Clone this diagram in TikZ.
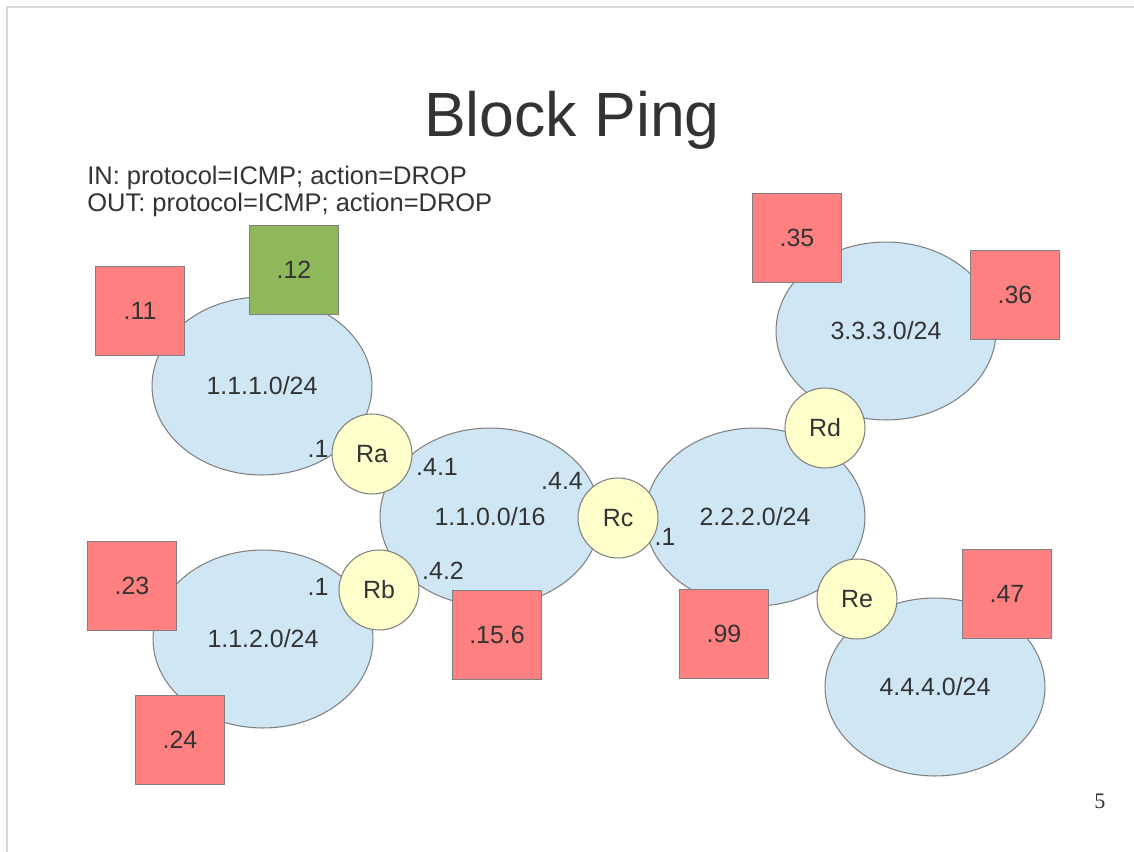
\documentclass[tikz,border=0pt]{standalone}
\usepackage{fontspec}
\setmainfont{Liberation Sans}
\newfontfamily\pagenumfont{Liberation Serif}
\usetikzlibrary{shapes.geometric}

\definecolor{netblue}{HTML}{CFE7F5}
\definecolor{routeryellow}{HTML}{FFFFCC}
\definecolor{hostred}{HTML}{FF8080}
\definecolor{hostgreen}{HTML}{8EB85A}
\definecolor{edgegray}{HTML}{808080}
\definecolor{textgray}{HTML}{333333}

\begin{document}
\begin{tikzpicture}[x=0.02cm,y=-0.02cm,
  every node/.style={text=textgray,font=\fontsize{14.2}{17}\selectfont},
  net/.style={ellipse,draw=edgegray,fill=netblue,line width=0.6pt,
    minimum width=4.4cm,minimum height=3.56cm,inner sep=0pt},
  router/.style={circle,draw=edgegray,fill=routeryellow,line width=0.6pt,
    minimum size=1.6cm,inner sep=0pt},
  host/.style={rectangle,draw=edgegray,fill=hostred,line width=0.6pt,
    minimum size=1.78cm,inner sep=0pt}]
\useasboundingbox (0,0) rectangle (1134,852);
\draw[gray!30,line width=1.2pt] (7,852) -- (7,7) -- (1134,7);

% heading and filter rules
\node[anchor=base,font=\fontsize{35.6}{40}\selectfont] (title) at (572,136) {Block Ping};
\node[anchor=base west,inner sep=0pt,font=\fontsize{14.5}{17}\selectfont] (rulein) at (87,184) {IN: protocol=ICMP; action=DROP};
\node[anchor=base west,inner sep=0pt,font=\fontsize{14.5}{17}\selectfont] (ruleout) at (87,211) {OUT: protocol=ICMP; action=DROP};

% subnets
\node[net] (n111) at (262,386) {1.1.1.0/24};
\node[net] (n112) at (263,639) {1.1.2.0/24};
\node[net] (n110) at (490,517) {1.1.0.0/16};
\node[net] (n222) at (755,517) {2.2.2.0/24};
\node[net] (n333) at (886,331) {3.3.3.0/24};
\node[net] (n444) at (935,687) {4.4.4.0/24};

% routers
\node[router] (ra) at (372,454) {Ra};
\node[router] (rb) at (379,590) {Rb};
\node[router] (rc) at (618,518) {Rc};
\node[router] (rd) at (825,428) {Rd};
\node[router] (re) at (857,599) {Re};

% hosts
\node[host] (h11) at (140,311) {.11};
\node[host,fill=hostgreen] (h12) at (294,270) {.12};
\node[host] (h23) at (132,586) {.23};
\node[host] (h24) at (180,740) {.24};
\node[host] (h156) at (497,635) {.15.6};
\node[host] (h99) at (724,634) {.99};
\node[host] (h35) at (797,238) {.35};
\node[host] (h36) at (1015,295) {.36};
\node[host] (h47) at (1007,594) {.47};

% interface addresses
\node (ra1) at (318,449) {.1};
\node (ra41) at (437,467) {.4.1};
\node (rb1) at (318,587) {.1};
\node (rb42) at (443,571) {.4.2};
\node (rc44) at (562,481) {.4.4};
\node (rc1) at (665,537) {.1};

\node[font=\pagenumfont\fontsize{12.6}{15}\selectfont] (pagenum) at (1100,801) {5};
\end{tikzpicture}
\end{document}
